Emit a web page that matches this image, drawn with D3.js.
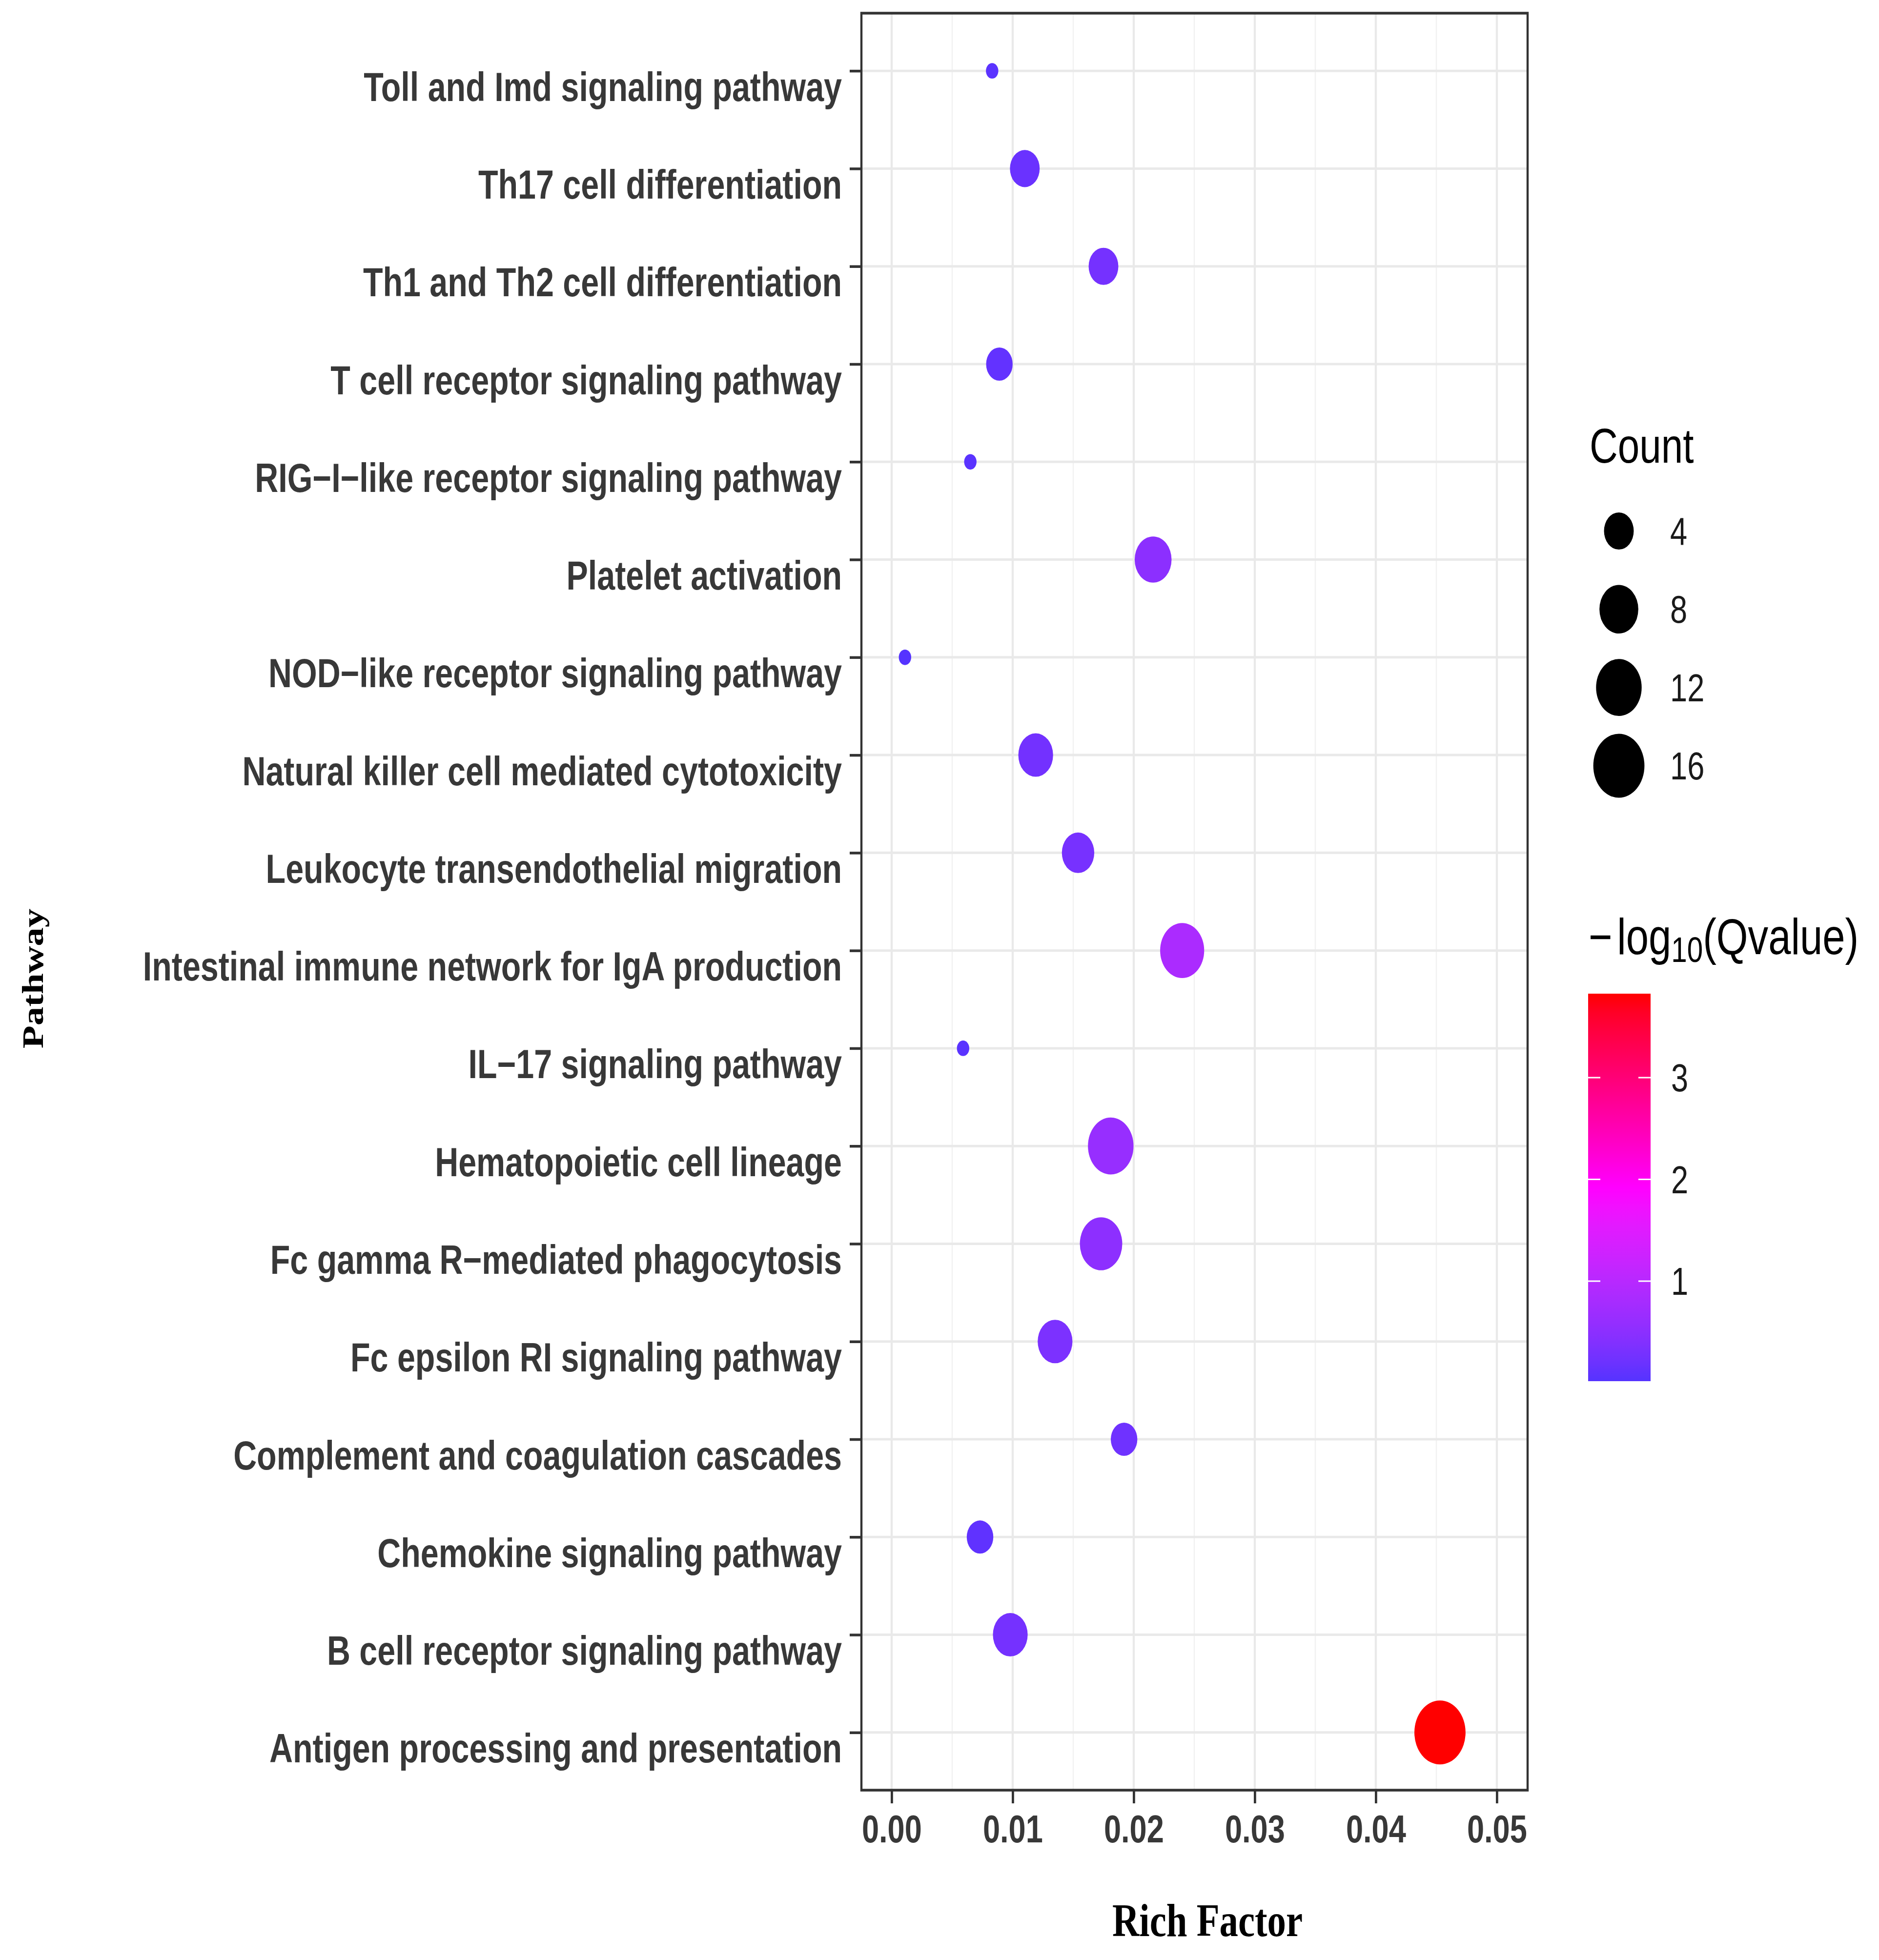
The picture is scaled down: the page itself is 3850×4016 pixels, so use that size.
<!DOCTYPE html>
<html>
<head>
<meta charset="utf-8">
<script src="https://cdn.jsdelivr.net/npm/d3@7"></script>
<style>
  html, body { margin: 0; padding: 0; background: #ffffff; }
  svg { display: block; }
</style>
</head>
<body>
<svg id="chart" width="3850" height="4016" viewBox="0 0 3850 4016"></svg>
<script>
// ---------------- DATA (top to bottom as drawn) ----------------
const pathways = [
  "Toll and Imd signaling pathway",
  "Th17 cell differentiation",
  "Th1 and Th2 cell differentiation",
  "T cell receptor signaling pathway",
  "RIG\u2212I\u2212like receptor signaling pathway",
  "Platelet activation",
  "NOD\u2212like receptor signaling pathway",
  "Natural killer cell mediated cytotoxicity",
  "Leukocyte transendothelial migration",
  "Intestinal immune network for IgA production",
  "IL\u221217 signaling pathway",
  "Hematopoietic cell lineage",
  "Fc gamma R\u2212mediated phagocytosis",
  "Fc epsilon RI signaling pathway",
  "Complement and coagulation cascades",
  "Chemokine signaling pathway",
  "B cell receptor signaling pathway",
  "Antigen processing and presentation"
];
const richFactor = [0.0083, 0.0110, 0.0175, 0.0089, 0.0065, 0.0216, 0.0011, 0.0119, 0.0154,
                    0.0240, 0.0059, 0.0181, 0.0173, 0.0135, 0.0192, 0.0073, 0.0098, 0.0453];
const geneCount  = [1, 4, 4, 3, 1, 7, 1, 6, 5, 11, 1, 12, 10, 6, 3, 3, 6, 16];
const negLog10Q  = [0.06, 0.18, 0.28, 0.12, 0.05, 0.50, 0.017, 0.26, 0.30,
                    0.85, 0.05, 0.62, 0.52, 0.34, 0.22, 0.10, 0.28, 3.825];
const xTicks = [0, 0.01, 0.02, 0.03, 0.04, 0.05];
const xMinorTicks = [0.005, 0.015, 0.025, 0.035, 0.045];
const countBreaks = [4, 8, 12, 16];
const qBreaks = [1, 2, 3];
const gradientColours = ["#5533ff", "#ff00ff", "#ff0000"];

// ---------------- LAYOUT ----------------
const K = 0.80;              // horizontal squeeze of the whole figure
const vx = x => x / K;       // real pixel -> virtual x
const panel = {l: 1765, r: 3130, t: 27, b: 3668};
const fontSans = "'Liberation Sans', Arial, Helvetica, sans-serif";
const fontSerif = "'Liberation Serif', 'Times New Roman', Times, serif";
const axisTextColour = "#383838";

const svg = d3.select("#chart");
svg.append("rect").attr("width", 3850).attr("height", 4016).attr("fill", "#ffffff");
const g = svg.append("g").attr("transform", `scale(${K},1)`);

const data = pathways.map((p, i) => ({pathway: p, rich: richFactor[i], count: geneCount[i], q: negLog10Q[i]}));

// scales
const x = d3.scaleLinear().domain([0, 0.05]).range([vx(1827), vx(3067)]);
const y = d3.scalePoint().domain(pathways).range([panel.t, panel.b]).padding(0.59);
const sizeScale = d3.scaleSqrt().domain([0, 15]).range([1, 6]);   // ggplot-like area scale
const diameter = c => 19.85 * (sizeScale(c - 1) + 0.6);
const qExtent = d3.extent(negLog10Q);
const colour = d3.scaleLinear()
  .domain([qExtent[0], (qExtent[0] + qExtent[1]) / 2, qExtent[1]])
  .range(gradientColours)
  .interpolate(d3.interpolateLab);

// ---------------- PANEL ----------------
const gridG = g.append("g");
gridG.selectAll("line.minor").data(xMinorTicks).join("line")
  .attr("x1", d => x(d)).attr("x2", d => x(d))
  .attr("y1", panel.t).attr("y2", panel.b)
  .attr("stroke", "#f1f1f1").attr("stroke-width", 3);
gridG.selectAll("line.majorx").data(xTicks).join("line")
  .attr("x1", d => x(d)).attr("x2", d => x(d))
  .attr("y1", panel.t).attr("y2", panel.b)
  .attr("stroke", "#e9e9e9").attr("stroke-width", 5.5);
gridG.selectAll("line.majory").data(pathways).join("line")
  .attr("x1", vx(panel.l)).attr("x2", vx(panel.r))
  .attr("y1", d => y(d)).attr("y2", d => y(d))
  .attr("stroke", "#e9e9e9").attr("stroke-width", 5);

// points
g.append("g").selectAll("circle").data(data).join("circle")
  .attr("cx", d => x(d.rich))
  .attr("cy", d => y(d.pathway))
  .attr("r", d => diameter(d.count) / 2)
  .attr("fill", d => colour(d.q));

// border
g.append("rect")
  .attr("x", vx(panel.l)).attr("y", panel.t)
  .attr("width", vx(panel.r) - vx(panel.l)).attr("height", panel.b - panel.t)
  .attr("fill", "none").attr("stroke", "#333333").attr("stroke-width", 5.5);

// ---------------- AXES ----------------
const yAxis = g.append("g")
  .attr("transform", `translate(${vx(panel.l)},0)`)
  .call(d3.axisLeft(y).tickSize(vx(24)).tickPadding(0));
yAxis.select(".domain").remove();
yAxis.selectAll(".tick line").attr("stroke", "#333333").attr("stroke-width", 5.5);
yAxis.selectAll(".tick text")
  .attr("x", -vx(40)).attr("dy", null).attr("y", 61)
  .attr("text-anchor", "end")
  .attr("font-family", fontSans).attr("font-size", 83).attr("font-weight", "bold")
  .attr("fill", axisTextColour);

const xAxis = g.append("g")
  .attr("transform", `translate(0,${panel.b})`)
  .call(d3.axisBottom(x).tickValues(xTicks).tickFormat(d3.format(".2f")).tickSize(27).tickPadding(0));
xAxis.select(".domain").remove();
xAxis.selectAll(".tick line").attr("stroke", "#333333").attr("stroke-width", 6);
xAxis.selectAll(".tick text")
  .attr("y", 107).attr("dy", null)
  .attr("font-family", fontSans).attr("font-size", 79).attr("font-weight", "bold")
  .attr("fill", axisTextColour);

// axis titles
g.append("text")
  .attr("x", vx(2474)).attr("y", 3967)
  .attr("text-anchor", "middle")
  .attr("font-family", fontSerif).attr("font-weight", "bold").attr("font-size", 96)
  .attr("fill", "#000")
  .text("Rich Factor");

g.append("text")
  .attr("transform", `translate(${vx(88)},2005) rotate(-90)`)
  .attr("text-anchor", "middle")
  .attr("font-family", fontSerif).attr("font-weight", "bold").attr("font-size", 77)
  .attr("fill", "#000")
  .text("Pathway");

// ---------------- SIZE LEGEND ----------------
g.append("text")
  .attr("x", vx(3257)).attr("y", 948)
  .attr("font-family", fontSans).attr("font-size", 100).attr("fill", "#000")
  .text("Count");
const legendY = d3.scalePoint().domain(countBreaks).range([1088, 1569]);
const sizeLeg = g.append("g");
sizeLeg.selectAll("circle").data(countBreaks).join("circle")
  .attr("cx", vx(3317)).attr("cy", d => legendY(d))
  .attr("r", d => diameter(d) / 2).attr("fill", "#000");
sizeLeg.selectAll("text").data(countBreaks).join("text")
  .attr("x", vx(3422)).attr("y", d => legendY(d) + 28)
  .attr("font-family", fontSans).attr("font-size", 79).attr("fill", "#1a1a1a")
  .text(d => d);

// ---------------- COLOUR BAR ----------------
const title = g.append("text")
  .attr("x", vx(3255)).attr("y", 1955)
  .attr("font-family", fontSans).attr("font-size", 104).attr("fill", "#000");
title.append("tspan").text("\u2212");
title.append("tspan").attr("dx", 12).text("log");
title.append("tspan").attr("font-size", 73).attr("dy", 16).text("10");
title.append("tspan").attr("dy", -16).text("(Qvalue)");

const barY = d3.scaleLinear().domain(qExtent).range([2830, 2036]);
const defs = svg.append("defs");
const grad = defs.append("linearGradient").attr("id", "qgrad")
  .attr("x1", 0).attr("y1", 1).attr("x2", 0).attr("y2", 0);
d3.range(0, 1.0001, 0.05).forEach(t => {
  grad.append("stop").attr("offset", t)
    .attr("stop-color", colour(qExtent[0] + t * (qExtent[1] - qExtent[0])));
});
const barL = vx(3254), barR = vx(3382);
g.append("rect")
  .attr("x", barL).attr("y", barY(qExtent[1]))
  .attr("width", barR - barL).attr("height", barY(qExtent[0]) - barY(qExtent[1]))
  .attr("fill", "url(#qgrad)");
const barTicks = g.append("g");
barTicks.selectAll("line.l").data(qBreaks).join("line")
  .attr("x1", barL).attr("x2", barL + vx(25))
  .attr("y1", d => barY(d)).attr("y2", d => barY(d))
  .attr("stroke", "#ffffff").attr("stroke-width", 3);
barTicks.selectAll("line.r").data(qBreaks).join("line")
  .attr("x1", barR - vx(25)).attr("x2", barR)
  .attr("y1", d => barY(d)).attr("y2", d => barY(d))
  .attr("stroke", "#ffffff").attr("stroke-width", 3);
barTicks.selectAll("text").data(qBreaks).join("text")
  .attr("x", vx(3424)).attr("y", d => barY(d) + 28)
  .attr("font-family", fontSans).attr("font-size", 79).attr("fill", "#1a1a1a")
  .text(d => d);
</script>
</body>
</html>
